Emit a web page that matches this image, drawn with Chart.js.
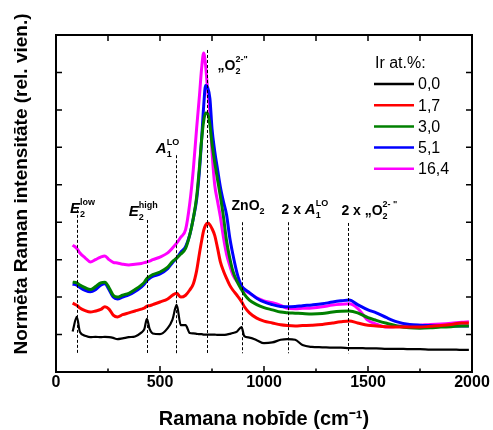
<!DOCTYPE html>
<html>
<head>
<meta charset="utf-8">
<script src="https://cdn.jsdelivr.net/npm/chart.js@4/dist/chart.umd.min.js"></script>
<style>
  html, body { margin: 0; padding: 0; background: #fff; }
  canvas { display: block; }
</style>
</head>
<body>
<canvas id="ramanChart" width="493" height="430"></canvas>
<script>
// Raman shift grid (cm-1) shared by all spectra
const ramanShift = [80, 100, 115, 140, 165, 190, 215, 235, 255, 275, 295, 320, 350, 380, 410, 425, 437, 450, 465, 500,
    537, 560, 580, 600, 623, 643, 660, 676, 690, 700, 710, 719, 729, 740, 750, 763, 777, 790, 805, 820,
    835, 850, 870, 892, 905, 930, 965, 1000, 1040, 1080, 1113, 1150, 1185, 1230, 1280, 1330, 1370, 1410, 1450, 1500,
    1540, 1590, 1640, 1700, 1750, 1800, 1850, 1900, 1950, 1985];

// normalised intensity for each Ir content
const ir00 = [1.08, 1.47, 1.07, 0.97, 0.93, 0.94, 0.93, 0.94, 0.93, 0.91, 0.88, 0.90, 0.93, 0.95, 1.05, 1.15, 1.42, 1.15, 1.03, 1.01,
    1.17, 1.40, 1.79, 1.25, 1.25, 1.04, 1.03, 1.02, 1.01, 1.01, 1.00, 1.00, 1.00, 1.00, 1.00, 1.00, 0.99, 0.99, 0.99, 1.00,
    1.02, 1.04, 1.08, 1.20, 0.96, 0.92, 0.85, 0.77, 0.79, 0.86, 0.88, 0.86, 0.72, 0.67, 0.66, 0.65, 0.65, 0.64, 0.64, 0.63,
    0.63, 0.62, 0.62, 0.61, 0.61, 0.60, 0.60, 0.60, 0.59, 0.59];
const ir17 = [1.84, 1.78, 1.71, 1.64, 1.60, 1.63, 1.67, 1.74, 1.68, 1.52, 1.47, 1.53, 1.58, 1.63, 1.68, 1.71, 1.76, 1.77, 1.80, 1.87,
    1.95, 2.05, 2.10, 2.00, 2.05, 2.19, 2.35, 2.70, 3.18, 3.50, 3.78, 3.92, 3.98, 3.93, 3.83, 3.65, 3.30, 2.95, 2.70, 2.50,
    2.32, 2.19, 2.05, 1.88, 1.75, 1.58, 1.44, 1.36, 1.31, 1.26, 1.24, 1.23, 1.24, 1.25, 1.27, 1.31, 1.34, 1.36, 1.31, 1.25,
    1.23, 1.21, 1.20, 1.20, 1.20, 1.22, 1.24, 1.27, 1.31, 1.31];
const ir30 = [2.40, 2.38, 2.32, 2.25, 2.20, 2.28, 2.38, 2.40, 2.25, 2.05, 2.00, 2.05, 2.10, 2.20, 2.32, 2.40, 2.50, 2.55, 2.60, 2.67,
    2.80, 2.95, 3.04, 3.15, 3.30, 3.66, 4.10, 4.67, 5.50, 6.20, 6.70, 6.92, 6.90, 6.60, 6.10, 5.60, 5.13, 4.70, 4.15, 3.50,
    3.05, 2.70, 2.42, 2.20, 2.08, 1.92, 1.80, 1.72, 1.66, 1.60, 1.58, 1.57, 1.56, 1.55, 1.56, 1.60, 1.62, 1.63, 1.58, 1.45,
    1.38, 1.30, 1.23, 1.18, 1.17, 1.18, 1.20, 1.21, 1.23, 1.23];
const ir51 = [2.35, 2.32, 2.26, 2.18, 2.14, 2.20, 2.32, 2.36, 2.20, 2.00, 1.95, 2.00, 2.06, 2.15, 2.27, 2.35, 2.44, 2.50, 2.55, 2.62,
    2.76, 2.92, 3.04, 3.20, 3.35, 3.66, 4.10, 4.60, 5.40, 6.20, 7.10, 7.65, 7.60, 7.30, 6.50, 5.90, 5.40, 4.95, 4.55, 4.20,
    3.60, 3.15, 2.65, 2.30, 2.22, 2.12, 1.97, 1.87, 1.80, 1.75, 1.74, 1.75, 1.77, 1.79, 1.82, 1.87, 1.90, 1.92, 1.80, 1.66,
    1.58, 1.45, 1.34, 1.27, 1.25, 1.24, 1.23, 1.23, 1.23, 1.23];
const ir164 = [3.39, 3.30, 3.18, 3.05, 2.94, 3.00, 3.07, 3.10, 3.00, 2.93, 2.91, 2.88, 2.86, 2.88, 2.90, 2.92, 2.94, 2.96, 3.00, 3.07,
    3.18, 3.31, 3.44, 3.60, 3.80, 4.50, 5.40, 6.50, 7.40, 8.10, 8.52, 8.20, 7.53, 6.90, 5.90, 5.00, 4.55, 4.15, 3.60, 3.15,
    2.85, 2.60, 2.42, 2.30, 2.20, 2.10, 1.98, 1.90, 1.85, 1.78, 1.70, 1.69, 1.70, 1.71, 1.74, 1.79, 1.81, 1.82, 1.70, 1.38,
    1.28, 1.20, 1.22, 1.24, 1.25, 1.27, 1.28, 1.30, 1.33, 1.34];

const irContent = ['0,0', '1,7', '3,0', '5,1', '16,4'];
const xTickValues = [0, 500, 1000, 1500, 2000];

// assigned modes: position, top of the marker line, label text
const peakShift = [99, 437, 578, 724, 892, 1113, 1405];
const peakTop = [4.33, 4.06, 5.79, 8.6, 4.0, 4.0, 3.98];
const peakLabels = [
    [['E', 'i'], ['2', 'b'], ['low', 'p']],
    [['E', 'i'], ['2', 'b'], ['high', 'p']],
    [['A', 'i'], ['1', 'b'], ['LO', 'p']],
    [['\u201E', 'n'], ['O', 'n'], ['2', 'b'], ['2-', 'p'], ['"', 'p']],
    [['ZnO', 'n'], ['2', 'b']],
    [['2 x ', 'n'], ['A', 'i'], ['1', 'b'], ['LO', 'p']],
    [['2 x ', 'n'], ['\u201E', 'n'], ['O', 'n'], ['2', 'b'], ['2- "', 'p']]
];

const FONT = '"Liberation Sans", Arial, sans-serif';
const colors = ['#000000', '#ff0000', '#008000', '#0000ff', '#ff00ff'];
const spectra = [ir00, ir17, ir30, ir51, ir164];

// label anchors (left edge, baseline) in data units
const labelAt = [[67, 4.25], [350, 4.17], [480, 5.85], [777, 8.06], [844, 4.33], [1084, 4.22], [1372, 4.19]];

function drawRich(ctx, parts, x, y) {
    let cx = x;
    let scriptX = null, scriptW = 0;
    parts.forEach(([t, s]) => {
        const script = s === 'b' || s === 'p';
        if (s === 'i') ctx.font = 'italic bold 15px ' + FONT;
        else ctx.font = 'bold ' + (script ? 9 : 14) + 'px ' + FONT;
        const dy = s === 'b' ? 4 : (s === 'p' ? -8 : 0);
        const px = (script && scriptX !== null) ? scriptX : cx;
        ctx.fillText(t, px, y + dy);
        const w = ctx.measureText(t).width;
        if (script) {
            if (scriptX === null) { scriptX = cx; scriptW = w; cx += w; }
            else { cx = scriptX + Math.max(scriptW, w); scriptX = null; }
        } else {
            cx += w;
            scriptX = null;
        }
    });
}

// box around the plot with inward tick marks on all four sides
const axisFrame = {
    id: 'axisFrame',
    afterDraw(chart) {
        const { ctx, chartArea: a, scales: { x, y } } = chart;
        ctx.save();
        ctx.strokeStyle = '#000';
        ctx.lineWidth = 1.5;
        ctx.beginPath();
        for (let v = 0; v <= 2000; v += 250) {
            const px = x.getPixelForValue(v);
            const major = v % 500 === 0;
            ctx.moveTo(px, a.bottom); ctx.lineTo(px, a.bottom - (major ? 6 : 3.5));
            ctx.moveTo(px, a.top); ctx.lineTo(px, a.top + 6);
        }
        for (let v = 1; v < 9; v++) {
            const py = y.getPixelForValue(v);
            ctx.moveTo(a.left, py); ctx.lineTo(a.left + 6, py);
            ctx.moveTo(a.right, py); ctx.lineTo(a.right - 6, py);
        }
        ctx.stroke();
        ctx.lineWidth = 2;
        ctx.strokeRect(a.left, a.top, a.right - a.left, a.bottom - a.top);

        // vertical axis title, it runs higher than the plot box
        ctx.fillStyle = '#000';
        ctx.font = 'bold 19px ' + FONT;
        ctx.textAlign = 'center';
        ctx.textBaseline = 'alphabetic';
        ctx.translate(27, 184);
        ctx.rotate(-Math.PI / 2);
        ctx.fillText('Normēta Raman intensitāte (rel. vien.)', 0, 0);
        ctx.restore();
    }
};

// dashed markers and mode labels
const peakMarks = {
    id: 'peakMarks',
    afterDatasetsDraw(chart) {
        const { ctx, scales: { x, y } } = chart;
        ctx.save();
        ctx.strokeStyle = '#000';
        ctx.lineWidth = 1;
        ctx.setLineDash([3, 2]);
        peakShift.forEach((p, i) => {
            const px = Math.round(x.getPixelForValue(p)) + 0.5;
            ctx.beginPath();
            ctx.moveTo(px, y.getPixelForValue(peakTop[i]));
            ctx.lineTo(px, y.getPixelForValue(0.5));
            ctx.stroke();
        });
        ctx.setLineDash([]);
        ctx.fillStyle = '#000';
        ctx.textBaseline = 'alphabetic';
        ctx.textAlign = 'left';
        peakLabels.forEach((parts, i) => {
            drawRich(ctx, parts, x.getPixelForValue(labelAt[i][0]), y.getPixelForValue(labelAt[i][1]));
        });
        ctx.restore();
    }
};

// legend box in the upper right corner
const seriesKey = {
    id: 'seriesKey',
    afterDraw(chart) {
        const ctx = chart.ctx;
        ctx.save();
        ctx.fillStyle = '#000';
        ctx.textBaseline = 'middle';
        ctx.textAlign = 'left';
        ctx.font = '16px ' + FONT;
        ctx.fillText('Ir at.%:', 375, 64);
        irContent.forEach((name, i) => {
            const ly = 84 + i * 21.2;
            ctx.strokeStyle = colors[i];
            ctx.lineWidth = 2.5;
            ctx.beginPath();
            ctx.moveTo(374, ly);
            ctx.lineTo(414, ly);
            ctx.stroke();
            ctx.fillText(name, 418, ly + 1);
        });
        ctx.restore();
    }
};

const ctx = document.getElementById('ramanChart').getContext('2d');
new Chart(ctx, {
    type: 'line',
    data: {
        datasets: spectra.map((s, i) => ({
            label: irContent[i],
            data: ramanShift.map((v, j) => ({ x: v, y: s[j] })),
            borderColor: colors[i],
            borderWidth: i === 0 ? 2.2 : 3,
            pointRadius: 0,
            fill: false,
            cubicInterpolationMode: 'monotone'
        }))
    },
    options: {
        responsive: false,
        animation: false,
        devicePixelRatio: 1,
        layout: { padding: { top: 35, right: 21, left: 0, bottom: 0 } },
        plugins: { legend: { display: false }, tooltip: { enabled: false } },
        scales: {
            x: {
                type: 'linear',
                min: 0,
                max: 2000,
                afterBuildTicks: s => { s.ticks = xTickValues.map(v => ({ value: v })); },
                ticks: {
                    color: '#000',
                    padding: 1,
                    maxRotation: 0,
                    font: { family: FONT, weight: 'bold', size: 16 },
                    callback: v => String(v)
                },
                grid: { display: false, drawTicks: false },
                border: { display: false },
                title: {
                    display: true,
                    text: 'Ramana nobīde (cm⁻¹)',
                    color: '#000',
                    font: { family: FONT, weight: 'bold', size: 20 },
                    padding: { top: 0, bottom: -1 }
                },
                afterFit: s => { s.height = 58; }
            },
            y: {
                type: 'linear',
                min: 0,
                max: 9,
                ticks: { display: false },
                grid: { display: false, drawTicks: false },
                border: { display: false },
                afterFit: s => { s.width = 56; }
            }
        }
    },
    plugins: [axisFrame, peakMarks, seriesKey]
});
</script>
</body>
</html>
